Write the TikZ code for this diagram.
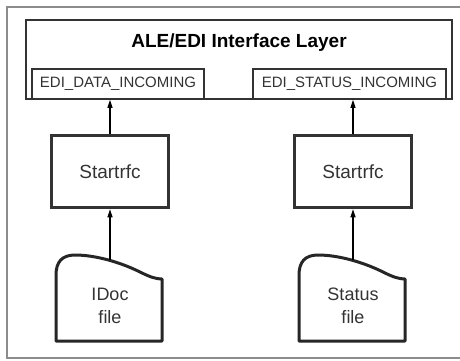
\documentclass[tikz,border=0pt]{standalone}
\usepackage{fontspec}
\setmainfont{Liberation Sans}
\usetikzlibrary{arrows.meta}
\begin{document}
\begin{tikzpicture}[x=1pt,y=-1pt,
  frame/.style={draw=black!45, line width=1.2pt},
  layerbox/.style={draw=black!80, line width=1.6pt, inner sep=0pt},
  portbox/.style={draw=black!80, line width=1.6pt, inner sep=0pt,
    minimum height=30pt, text=black!80, font=\fontsize{15}{18}\selectfont},
  procbox/.style={draw=black!80, line width=3.5pt, inner sep=0pt,
    minimum width=117pt, minimum height=72pt, text=black!80,
    font=\fontsize{19}{22}\selectfont},
  filebox/.style={draw=black!85, line width=3pt, line join=round},
  filetext/.style={align=center, text=black!80, font=\fontsize{18}{23}\selectfont},
  conn/.style={draw=black, line width=1.2pt, -{Triangle[length=8pt,width=5pt]}}
]
\useasboundingbox (0,0) rectangle (460,360);

% outer frame, running past the right margin
\draw[frame] (470,7) -- (7,7) -- (7,358) -- (470,358);

% interface layer with its two inbound ports
\node[layerbox, minimum width=426pt, minimum height=79pt] (layer) at (239,59.5) {};
\node[font=\bfseries\fontsize{19}{22}\selectfont] (title) at (239,43) {ALE/EDI Interface Layer};
\node[portbox, minimum width=172pt] (portA) at (118,84) {EDI\_DATA\_INCOMING};
\node[portbox, minimum width=193pt] (portB) at (349.5,84) {EDI\_STATUS\_INCOMING};

% startrfc programs
\node[procbox] (srfcA) at (110,171.5) {Startrfc};
\node[procbox] (srfcB) at (353,171.5) {Startrfc};

% input files (document shape)
\draw[filebox] (56,341) -- (56,275)
  .. controls (56,262) and (62,255) .. (75,255)
  .. controls (95,255) and (120,262) .. (140,272)
  .. controls (150,277) and (156,279) .. (162,279)
  -- (162,341) -- cycle;
\begin{scope}[shift={(243,0)}]
\draw[filebox] (56,341) -- (56,275)
  .. controls (56,262) and (62,255) .. (75,255)
  .. controls (95,255) and (120,262) .. (140,272)
  .. controls (150,277) and (156,279) .. (162,279)
  -- (162,341) -- cycle;
\end{scope}
\coordinate (idocTop) at (110,260);
\coordinate (statTop) at (353,260);
\node[filetext] (idoc) at (110,306) {IDoc\\file};
\node[filetext] (stat) at (353,306) {Status\\file};

% connectors
\draw[conn] (idocTop) -- (srfcA.south);
\draw[conn] (statTop) -- (srfcB.south);
\draw[conn] (srfcA.north) -- (srfcA.north |- portA.south);
\draw[conn] (srfcB.north) -- (srfcB.north |- portB.south);
\end{tikzpicture}
\end{document}
